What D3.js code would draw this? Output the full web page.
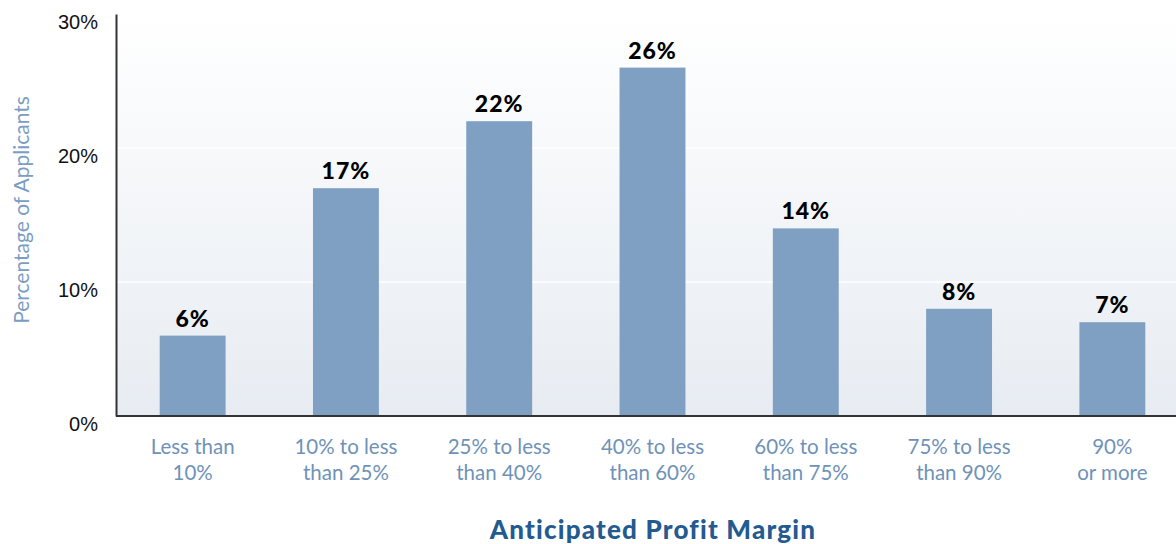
<!DOCTYPE html>
<html>
<head>
<meta charset="utf-8">
<script src="https://cdn.jsdelivr.net/npm/d3@7"></script>
<style>
  body { margin: 0; background: #fff; }
  svg { display: block; font-family: Lato, "Open Sans", sans-serif; }
</style>
</head>
<body>
<div id="chart"></div>
<script>
// Data
var categories = [
  ["Less than", "10%"],
  ["10% to less", "than 25%"],
  ["25% to less", "than 40%"],
  ["40% to less", "than 60%"],
  ["60% to less", "than 75%"],
  ["75% to less", "than 90%"],
  ["90%", "or more"]
];
var values = [6, 17, 22, 26, 14, 8, 7];
var yTicks = [0, 10, 20, 30];

var w = 1176;
var h = 544;
var margin = { top: 14, bottom: 128, left: 116, right: 0 };
var plotBottom = h - margin.bottom;

var svg = d3.select("#chart")
  .append("svg")
  .attr("width", w)
  .attr("height", h);

// Background gradient for plot area
var defs = svg.append("defs");
var grad = defs.append("linearGradient")
  .attr("id", "bg")
  .attr("x1", 0).attr("y1", 0).attr("x2", 0).attr("y2", 1);
grad.append("stop").attr("offset", "0%").attr("stop-color", "#ffffff");
grad.append("stop").attr("offset", "100%").attr("stop-color", "#e7ecf2");

var x = d3.scaleBand()
  .domain(d3.range(categories.length))
  .range([margin.left, 1189])
  .paddingInner(0.57)
  .paddingOuter(0.285);

var y = d3.scaleLinear()
  .domain([0, 30])
  .range([plotBottom, margin.top]);

svg.append("rect")
  .attr("x", margin.left)
  .attr("y", y(30))
  .attr("width", w - margin.left)
  .attr("height", plotBottom - y(30))
  .attr("fill", "url(#bg)");

// Gridlines
svg.append("g")
  .selectAll("line")
  .data(yTicks.filter(function(d) { return d > 0 && d < 30; }))
  .enter().append("line")
  .attr("x1", margin.left)
  .attr("x2", w)
  .attr("y1", function(d) { return y(d); })
  .attr("y2", function(d) { return y(d); })
  .attr("stroke", "#ffffff")
  .attr("stroke-width", 1.5);

// Bars
svg.append("g")
  .selectAll("rect")
  .data(values)
  .enter().append("rect")
  .attr("x", function(d, i) { return x(i); })
  .attr("y", function(d) { return y(d); })
  .attr("width", x.bandwidth())
  .attr("height", function(d) { return plotBottom - y(d); })
  .attr("fill", "#7fa0c2");

// Value labels
svg.append("g")
  .selectAll("text")
  .data(values)
  .enter().append("text")
  .attr("x", function(d, i) { return x(i) + x.bandwidth() / 2; })
  .attr("y", function(d) { return y(d) - 9; })
  .attr("text-anchor", "middle")
  .style("font-size", "23px")
  .style("font-weight", "900")
  .style("letter-spacing", "1px")
  .attr("fill", "#000")
  .text(function(d) { return d + "%"; });

// Y axis
var yAxis = d3.axisLeft(y)
  .tickValues(yTicks)
  .tickSize(0)
  .tickPadding(18)
  .tickFormat(function(d) { return d + "%"; });

var gy = svg.append("g")
  .attr("transform", "translate(" + margin.left + ",0)")
  .call(yAxis);
gy.select(".domain").attr("stroke", "#333").attr("stroke-width", 2);
gy.selectAll("text")
  .attr("dy", "0.95em")
  .attr("transform", "translate(0,-5)")
  .style("font-size", "20px")
  .attr("fill", "#111");

// X baseline
svg.append("line")
  .attr("x1", margin.left)
  .attr("x2", w)
  .attr("y1", plotBottom)
  .attr("y2", plotBottom)
  .attr("stroke", "#333")
  .attr("stroke-width", 2);

// Category labels
var cat = svg.append("g")
  .selectAll("text")
  .data(categories)
  .enter().append("text")
  .attr("text-anchor", "middle")
  .style("font-size", "20.5px")
  .attr("fill", "#6f92b8");
cat.each(function(d, i) {
  var t = d3.select(this);
  d.forEach(function(line, j) {
    t.append("tspan")
      .attr("x", x(i) + x.bandwidth() / 2)
      .attr("y", plotBottom + 38 + j * 26)
      .text(line);
  });
});

// Axis titles
svg.append("text")
  .attr("x", 653)
  .attr("y", 539)
  .attr("text-anchor", "middle")
  .style("font-size", "26px")
  .style("font-weight", "900")
  .style("letter-spacing", "1.2px")
  .attr("fill", "#235b91")
  .text("Anticipated Profit Margin");

svg.append("text")
  .attr("transform", "translate(29,210) rotate(-90)")
  .attr("text-anchor", "middle")
  .style("font-size", "21px")
  .attr("fill", "#7b9dc2")
  .text("Percentage of Applicants");
</script>
</body>
</html>
